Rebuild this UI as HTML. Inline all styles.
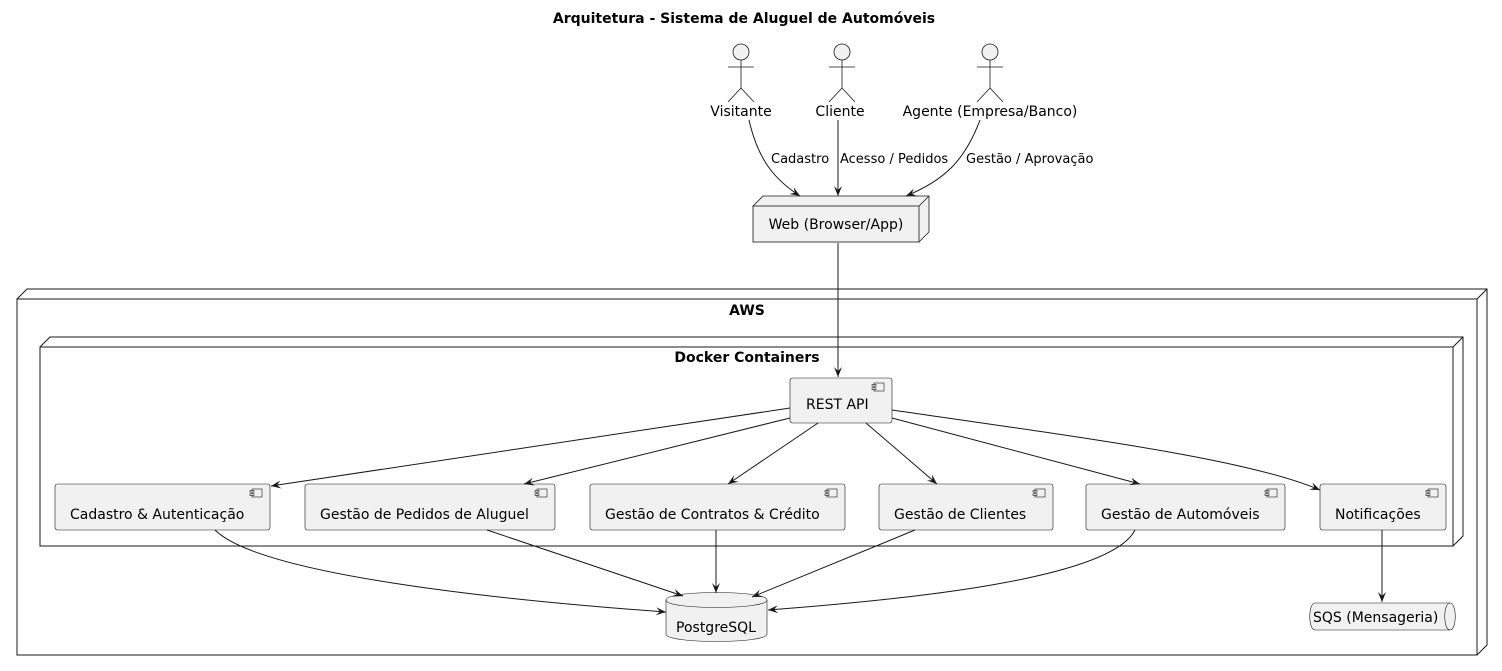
<!DOCTYPE html>
<html><head><meta charset="utf-8"><style>
html,body{margin:0;padding:0;background:#fff;}
svg{display:block;font-family:"DejaVu Sans","Liberation Sans",sans-serif;}
</style></head><body>
<svg width="1502" height="671" viewBox="0 0 1502 671" xmlns="http://www.w3.org/2000/svg">
<defs>
<marker id="a" markerWidth="12" markerHeight="10" refX="10" refY="4" orient="auto" markerUnits="userSpaceOnUse">
<path d="M0,0 L10,4 L0,8 L4,4 Z" fill="#181818"/>
</marker>
<g id="ci"><rect x="0" y="0" width="10" height="8" fill="#f1f1f1" stroke="#181818" stroke-width="0.6"/><rect x="-2" y="1.5" width="4" height="1.6" fill="#f1f1f1" stroke="#181818" stroke-width="0.6"/><rect x="-2" y="4.8" width="4" height="1.6" fill="#f1f1f1" stroke="#181818" stroke-width="0.6"/></g>
</defs>
<text x="744" y="23" text-anchor="middle" font-size="14" font-weight="bold">Arquitetura - Sistema de Aluguel de Automóveis</text>

<g fill="#f1f1f1" stroke="#181818" stroke-width="0.8">
<circle cx="741" cy="52" r="8"/><path d="M741,60 V88 M728,67 H754 M741,88 L728,102 M741,88 L754,102" fill="none"/>
<circle cx="842" cy="52" r="8"/><path d="M842,60 V88 M829,67 H855 M842,88 L829,102 M842,88 L855,102" fill="none"/>
<circle cx="990" cy="52" r="8"/><path d="M990,60 V88 M977,67 H1003 M990,88 L977,102 M990,88 L1003,102" fill="none"/>
</g>
<g font-size="14" text-anchor="middle" fill="#000">
<text x="741" y="116">Visitante</text>
<text x="840" y="116">Cliente</text>
<text x="990" y="116">Agente (Empresa/Banco)</text>
</g>

<path d="M753,206 L763,196 L929,196 L929,232 L919,242 Z" fill="#f1f1f1" stroke="#181818" stroke-width="0.8"/>
<rect x="753" y="206" width="166" height="36" fill="#f1f1f1" stroke="#181818" stroke-width="0.8"/>
<path d="M919,206 L929,196" stroke="#181818" stroke-width="0.8"/>
<text x="836" y="229" font-size="14" text-anchor="middle">Web (Browser/App)</text>

<rect x="17" y="299" width="1460" height="356" fill="#fff" stroke="#181818"/>
<path d="M17,299 L27,289 L1487,289 L1487,645 L1477,655 M1477,299 L1487,289" fill="none" stroke="#181818"/>
<text x="747" y="315" font-size="14" font-weight="bold" text-anchor="middle">AWS</text>

<rect x="40" y="347" width="1413" height="199" fill="#fff" stroke="#181818"/>
<path d="M40,347 L50,337 L1463,337 L1463,536 L1453,546 M1453,347 L1463,337" fill="none" stroke="#181818"/>
<text x="747" y="362" font-size="14" font-weight="bold" text-anchor="middle">Docker Containers</text>

<g fill="#f1f1f1" stroke="#181818" stroke-width="0.6">
<rect x="790" y="378" width="102" height="45" rx="2.5"/>
<rect x="55" y="484" width="215" height="46" rx="2.5"/>
<rect x="305" y="484" width="250" height="46" rx="2.5"/>
<rect x="590" y="484" width="255" height="46" rx="2.5"/>
<rect x="879" y="484" width="174" height="46" rx="2.5"/>
<rect x="1086" y="484" width="199" height="46" rx="2.5"/>
<rect x="1320" y="484" width="126" height="46" rx="2.5"/>
</g>
<use href="#ci" x="874" y="383"/>
<use href="#ci" x="252" y="489"/>
<use href="#ci" x="537" y="489"/>
<use href="#ci" x="827" y="489"/>
<use href="#ci" x="1035" y="489"/>
<use href="#ci" x="1267" y="489"/>
<use href="#ci" x="1428" y="489"/>
<g font-size="14" fill="#000">
<text x="806" y="409">REST API</text>
<text x="70" y="519">Cadastro &amp; Autenticação</text>
<text x="320" y="519">Gestão de Pedidos de Aluguel</text>
<text x="605" y="519">Gestão de Contratos &amp; Crédito</text>
<text x="894" y="519">Gestão de Clientes</text>
<text x="1101" y="519">Gestão de Automóveis</text>
<text x="1335" y="519">Notificações</text>
</g>

<path d="M666,600 C666,590 767,590 767,600 L767,634 C767,644 666,644 666,634 Z" fill="#f1f1f1" stroke="#181818" stroke-width="0.6"/>
<path d="M666,600 C666,610 767,610 767,600" fill="none" stroke="#181818" stroke-width="0.6"/>
<text x="716" y="632" font-size="14" text-anchor="middle">PostgreSQL</text>

<path d="M1315,603 L1450,603 C1457,603 1457,630 1450,630 L1315,630 C1308,630 1308,603 1315,603 Z" fill="#f1f1f1" stroke="#181818" stroke-width="0.6"/>
<path d="M1450,603 C1443,603 1443,630 1450,630" fill="none" stroke="#181818" stroke-width="0.6"/>
<text x="1313" y="622" font-size="14">SQS (Mensageria)</text>

<g fill="none" stroke="#181818" stroke-width="1" marker-end="url(#a)">
<path d="M749,120 C758,160 775,180 800,196"/>
<path d="M838,120 C838,150 838,175 838,196"/>
<path d="M980,120 C965,160 945,180 906,196"/>
<path d="M838,243 L838,377"/>
<path d="M790,408 L271,486"/>
<path d="M790,418 L524,484"/>
<path d="M818,423 L728,484"/>
<path d="M866,423 L937,484"/>
<path d="M892,418 L1140,484"/>
<path d="M892,410 C1100,440 1250,460 1320,490"/>
<path d="M215,530 C260,575 500,600 666,612"/>
<path d="M487,530 L683,596"/>
<path d="M716,530 L716,593"/>
<path d="M915,530 L752,597"/>
<path d="M1135,530 C1110,580 900,600 768,610"/>
<path d="M1382,530 L1382,602"/>
</g>
<g font-size="13" fill="#000">
<text x="771" y="163">Cadastro</text>
<text x="840" y="163">Acesso / Pedidos</text>
<text x="966" y="163">Gestão / Aprovação</text>
</g>
</svg>
</body></html>
